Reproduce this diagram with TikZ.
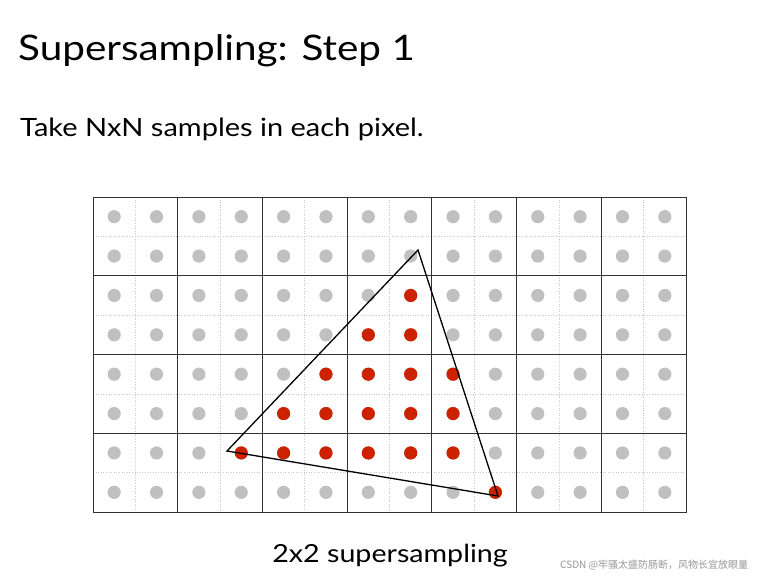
\documentclass[tikz,border=0pt]{standalone}
\usepackage{fontspec}
\setmainfont{Lato}[FakeStretch=1.15]
\newfontfamily\cjk{Noto Sans CJK SC}
\definecolor{dotgray}{RGB}{192,192,192}
\definecolor{dotred}{RGB}{204,34,0}
\definecolor{subline}{RGB}{200,200,200}
\definecolor{wmgray}{RGB}{150,150,150}
\begin{document}
\begin{tikzpicture}[x=1pt,y=-1pt,
  sample/.style={fill=dotgray},
  hit/.style={fill=dotred},
  pixline/.style={draw=black!80,line width=0.8pt},
  subgrid/.style={draw=subline,dotted,line width=0.6pt}]
\useasboundingbox (0,0) rectangle (762,579);
% text
\node[anchor=base west,inner sep=0,font=\fontsize{35.2}{38}\selectfont] (title) at (18,60) {Supersampling: Step 1};
\node[anchor=base west,inner sep=0,font=\fontsize{25.2}{28}\selectfont] (sub) at (20,136) {Take NxN samples in each pixel.};
\node[anchor=base,inner sep=0,font=\fontsize{24.9}{28}\selectfont] (cap) at (390,562) {2x2 supersampling};
\node[anchor=base west,inner sep=0,text=wmgray,font=\cjk\fontsize{10}{11}\selectfont] (wm) at (560,568) {CSDN @牢骚太盛防肠断，风物长宜放眼量};
% grid geometry
\def\gx{93}\def\gy{197}\def\pw{84.714}\def\ph{78.75}
% sub-pixel dotted lines
\foreach \i in {0,...,6} \draw[subgrid] ({\gx+(\i+0.5)*\pw},\gy) -- ({\gx+(\i+0.5)*\pw},{\gy+4*\ph});
\foreach \j in {0,...,3} \draw[subgrid] (\gx,{\gy+(\j+0.5)*\ph}) -- ({\gx+7*\pw},{\gy+(\j+0.5)*\ph});
% pixel lines
\foreach \i in {1,...,6} \draw[pixline] ({\gx+\i*\pw},\gy) -- ({\gx+\i*\pw},{\gy+4*\ph});
\foreach \j in {1,...,3} \draw[pixline] (\gx,{\gy+\j*\ph}) -- ({\gx+7*\pw},{\gy+\j*\ph});
\draw[pixline] (\gx,\gy) rectangle ({\gx+7*\pw},{\gy+4*\ph});
% samples
\foreach \c in {0,...,13} \foreach \r in {0,...,7}
  \fill[sample] ({\gx+(\c+0.5)*\pw/2},{\gy+(\r+0.5)*\ph/2}) circle (6.6);
\foreach \c/\r in {7/2, 6/3,7/3, 5/4,6/4,7/4,8/4, 4/5,5/5,6/5,7/5,8/5, 3/6,4/6,5/6,6/6,7/6,8/6, 9/7}
  \fill[hit] ({\gx+(\c+0.5)*\pw/2},{\gy+(\r+0.5)*\ph/2}) circle (6.6);
% triangle
\coordinate (A) at (418,250);
\coordinate (B) at (227,451);
\coordinate (C) at (498,496);
\draw[line width=1.3pt,line join=miter] (A) -- (B) -- (C) -- cycle;
\end{tikzpicture}
\end{document}
